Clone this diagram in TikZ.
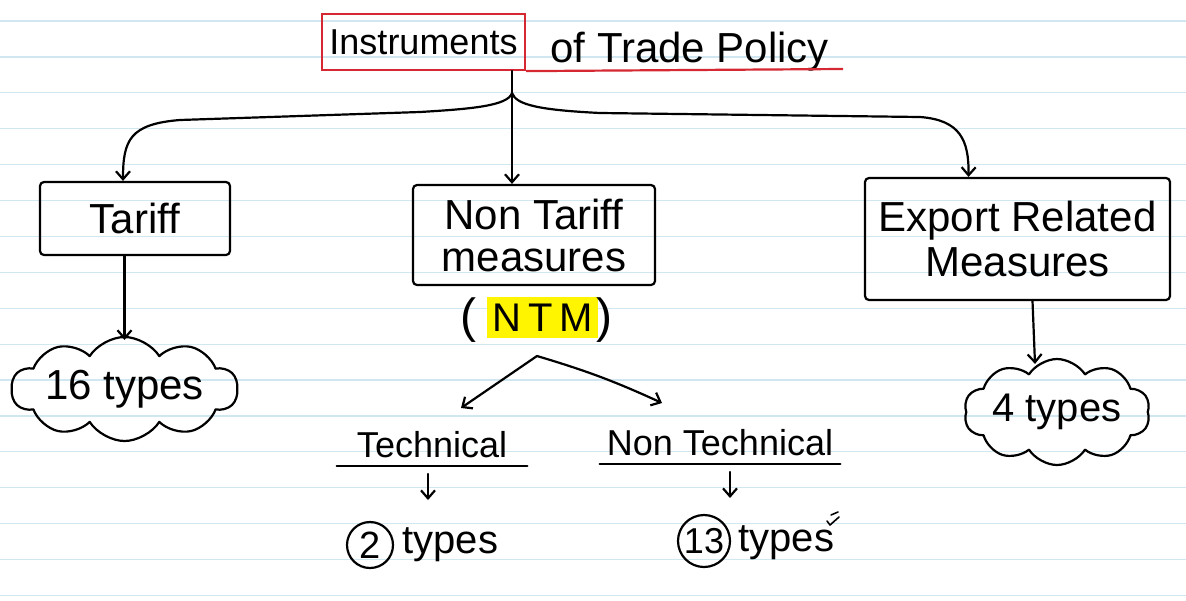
\documentclass[tikz,border=0pt]{standalone}
\usepackage{fontspec}
\setmainfont{Liberation Sans}
\usetikzlibrary{arrows.meta,shapes.symbols,calc}
\definecolor{rulecol}{RGB}{208,230,240}
\definecolor{redpen}{RGB}{214,40,50}
\definecolor{hl}{RGB}{255,245,0}
\begin{document}
\begin{tikzpicture}[x=0.5pt,y=-0.5pt,
 pen/.style={line width=1.1pt, black, line cap=round, line join=round},
 arr/.style={pen, -{Straight Barb[length=4pt,width=7pt]}},
 boxnode/.style={draw, pen, rounded corners=2pt, align=center, font=\fontsize{21}{21}\selectfont},
 txt/.style={font=\fontsize{20}{24}\selectfont, inner sep=0pt},
 cloudnode/.style={cloud, draw, pen, cloud ignores aspect, cloud puffs=10, cloud puff arc=115, inner sep=0pt}
]
\useasboundingbox (0,0) rectangle (1186,600);
\fill[white] (0,0) rectangle (1186,600);
\foreach \k in {0,...,16} \draw[rulecol, line width=0.6pt] (0,{21+35.9*\k}) -- (1186,{21+35.9*\k});

% title
\node[draw=redpen, line width=1.1pt, minimum width=101.5pt, minimum height=28pt, font=\fontsize{18}{20}\selectfont, inner sep=0pt] (inst) at (423.5,42) {Instruments};
\node[txt, anchor=base west, font=\fontsize{21}{24}\selectfont] (policy) at (550,62) {of Trade Policy};
\coordinate (ul) at (843,69);
\draw[redpen, line width=1.1pt] (inst.south east) -- (ul);

% boxes
\node[boxnode, minimum width=95pt, minimum height=36.5pt] (tariff) at (135,218.5) {Tariff};
\node[boxnode, minimum width=121pt, minimum height=50pt] (ntm) at (534,235) {Non Tariff\\measures};
\node[boxnode, minimum width=152.5pt, minimum height=61pt, font=\fontsize{21}{22.5}\selectfont] (export) at (1017.5,239) {Export Related\\Measures};

% top connectors
\coordinate (stem) at (512,71);
\coordinate (hub) at (512,93);
\draw[pen] (stem) -- (hub);
\draw[arr] (hub) .. controls (508,106) and (470,109) .. (420,112) -- (180,120) .. controls (130,124) and (123,140) .. ($(tariff.north)+(-12,0)$);
\draw[arr] (hub) -- (hub |- ntm.north);
\draw[arr] (hub) .. controls (516,105) and (540,110) .. (600,113) -- (920,117) .. controls (960,120) and (969,140) .. ($(export.north)+(-49,0)$);

% clouds
\node[cloudnode, minimum width=113pt, minimum height=52pt] (cloud16) at (124.5,389) {};
\node[txt, font=\fontsize{21}{24}\selectfont] (t16) at (cloud16.center) {16 types};
\node[cloudnode, minimum width=93pt, minimum height=53pt] (cloud4) at (1057,412) {};
\node[txt, font=\fontsize{20}{24}\selectfont] (t4) at (cloud4.center) {4 types};
\draw[arr] (tariff.south -| cloud16.north) -- ($(cloud16.north)+(0,4)$);
\draw[arr] ($(export.south)+(15,0)$) -- ($(cloud4.north)+(-22,6)$);

% NTM label
\node[fill=hl, minimum width=55.5pt, minimum height=20.5pt, inner sep=0pt, font=\fontsize{20}{24}\selectfont] (ntmlbl) at (542.5,317.5) {N\,T\,M};
\node[txt, font=\fontsize{24}{28}\selectfont] (lp) at (468,320) {(};
\node[txt, font=\fontsize{24}{28}\selectfont] (rp) at (604,320) {)};

% split
\coordinate (split) at (537,356);
\coordinate (tarrow) at (461,408);
\coordinate (ntarrow) at (662,403);
\draw[arr] (split) -- (tarrow);
\draw[arr] (split) to[bend left=4] (ntarrow);

% technical / non technical
\node[txt, font=\fontsize{18}{22}\selectfont, minimum width=95pt, anchor=south, inner ysep=4pt] (tech) at (432,466) {Technical};
\draw[pen] (tech.south west) -- (tech.south east);
\node[txt, font=\fontsize{18}{22}\selectfont, minimum width=120pt, anchor=south, inner ysep=4pt] (ntech) at (720,464) {Non Technical};
\draw[pen] (ntech.south west) -- (ntech.south east);
\draw[arr] ($(tech.south)+(-4,8)$) -- ++(0,26);
\draw[arr] ($(ntech.south)+(10,8)$) -- ++(0,26);

% counts
\node[circle, draw, pen, minimum size=23pt, inner sep=0pt, font=\fontsize{19}{20}\selectfont] (c2) at (370,545) {2};
\node[txt, anchor=west] (t2) at (402,545) {types};
\node[circle, draw, pen, minimum size=26pt, inner sep=0pt, font=\fontsize{18}{20}\selectfont] (c13) at (704,541) {13};
\node[txt, anchor=west] (t13) at (738,543) {types};
\draw[pen, line width=0.8pt] (831,515) -- (838,512);
\draw[pen, line width=0.8pt] (827,521) -- (830,525) -- (839,517);
\end{tikzpicture}
\end{document}
